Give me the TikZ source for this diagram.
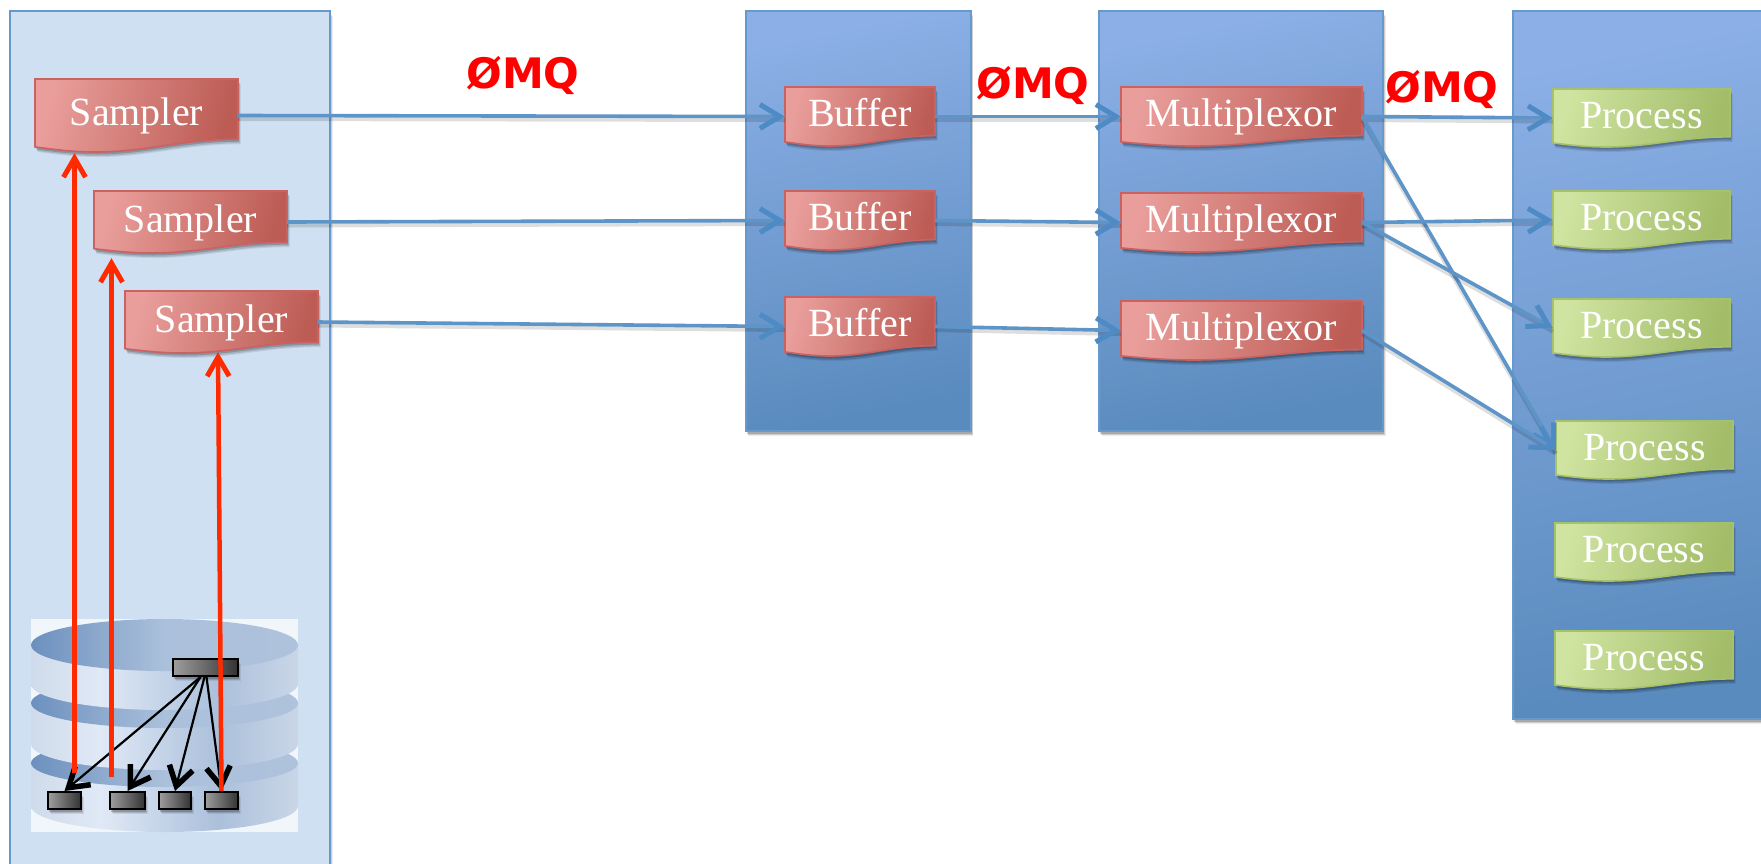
\documentclass[tikz,border=0pt]{standalone}
\usepackage{fontspec}
\setmainfont{Liberation Serif}
\newfontfamily\zmqfont{DejaVu Sans}
\usetikzlibrary{arrows.meta,shadows,calc}
\definecolor{edgeblue}{HTML}{6699CC}
\definecolor{linkblue}{HTML}{5E95C9}
\definecolor{linkhead}{HTML}{4E8AC4}
\definecolor{lightpanel}{HTML}{CFE0F2}
\definecolor{redhi}{HTML}{E99E9B}
\definecolor{redmid}{HTML}{E0807A}
\definecolor{redlo}{HTML}{BD5C55}
\definecolor{rededge}{HTML}{C96260}
\definecolor{greenhi}{HTML}{CFE4A0}
\definecolor{greenmid}{HTML}{C0DA82}
\definecolor{greenlo}{HTML}{A2BC68}
\definecolor{greenedge}{HTML}{A5C26A}
\definecolor{redarrow}{HTML}{FF2A00}
\definecolor{zmqred}{HTML}{FF0000}
\definecolor{diskA}{HTML}{CFDBEB}
\definecolor{diskB}{HTML}{E0E9F6}
\definecolor{diskC}{HTML}{ABC0DB}
\definecolor{diskD}{HTML}{C9D6E7}
\definecolor{topA}{HTML}{6C90BE}
\definecolor{topB}{HTML}{ABC0DB}
\definecolor{topC}{HTML}{AFC2DC}
\definecolor{panelhi}{HTML}{8BAFE6}
\definecolor{panelmid}{HTML}{739FD6}
\definecolor{panello}{HTML}{5A8BBE}
\pgfdeclarehorizontalshading{diskside}{100bp}{color(0bp)=(diskA); color(25bp)=(diskA); color(38bp)=(diskB); color(60bp)=(diskC); color(75bp)=(diskD); color(100bp)=(diskD)}
\pgfdeclarehorizontalshading{disktop}{100bp}{color(0bp)=(topA); color(25bp)=(topA); color(50bp)=(topB); color(75bp)=(topC); color(100bp)=(topC)}
\tikzset{
  softshadow/.style={
    drop shadow={shadow xshift=2.5pt,shadow yshift=-5pt,fill=black,opacity=.08},
    drop shadow={shadow xshift=2pt,shadow yshift=-4pt,fill=black,opacity=.12},
    drop shadow={shadow xshift=1pt,shadow yshift=-2.5pt,fill=black,opacity=.18}},
  panellight/.style={draw=edgeblue,line width=2pt,fill=lightpanel,inner sep=0pt,softshadow},
  paneldark/.style={draw=edgeblue,line width=2pt,top color=panelhi,middle color=panelmid,bottom color=panello,shading angle=12,inner sep=0pt,softshadow},
  redwave/.style={draw=rededge,line width=1.6pt,left color=redhi,middle color=redmid,right color=redlo,shading angle=75,softshadow},
  greenwave/.style={draw=greenedge,line width=1.6pt,left color=greenhi,middle color=greenmid,right color=greenlo,shading angle=75,softshadow},
  boxtext/.style={inner sep=0pt,text=white,font=\fontsize{40}{44}\selectfont,text height=28pt,text depth=8pt,align=center},
  link/.style={draw=linkblue,line width=3.6pt,-{Straight Barb[length=20pt,width=24pt,line width=5pt,color=linkhead]},
    preaction={draw=black,opacity=.13,line width=4pt,-,transform canvas={yshift=-3.5pt}}},
  redlink/.style={draw=redarrow,line width=4.5pt,-{Straight Barb[length=19pt,width=22pt,line width=5pt]}},
  blacklink/.style={draw=black,line width=2.2pt,-{Straight Barb[length=19pt,width=24pt,line width=5.5pt]}},
  dbbox/.style={draw=black,line width=2pt,left color=black!38,right color=black!80,inner sep=0pt,softshadow},
  zmq/.style={anchor=base,text=zmqred,font=\zmqfont\bfseries\fontsize{42}{44}\selectfont,inner sep=0pt},
}
\newcommand{\wbox}[7]{%
  \pgfmathsetmacro{\wW}{#4-#2}\pgfmathsetmacro{\wH}{#5-#3}%
  \pgfmathsetmacro{\wR}{#5-.175*\wH}\pgfmathsetmacro{\wL}{#5-.07*\wH}%
  \path[#7] (#2,#3) -- (#4,#3) -- (#4,\wR)
    .. controls ({#4-.28*\wW},\wR) and ({#2+.55*\wW},#5) .. ({#2+.3*\wW},#5)
    .. controls ({#2+.18*\wW},#5) and ({#2+.08*\wW},{\wL+.03*\wH}) .. (#2,\wL) -- cycle;
  \node[boxtext,minimum width=\wW pt,minimum height=\wH pt] (#1) at ({(#2+#4)/2},{(#3+#5)/2}) {#6};
}
\newcommand{\tier}[2]{%
  \path[shading=diskside] (31,#1) -- (31,#2)
    .. controls (31,{#2+14.4}) and (91,{#2+26}) .. (164.5,{#2+26})
    .. controls (238,{#2+26}) and (298,{#2+14.4}) .. (298,#2) -- (298,#1) -- cycle;
}
\begin{document}
\begin{tikzpicture}[x=1pt,y=-1pt]
\useasboundingbox (0,0) rectangle (1761,863);
\fill[white] (0,0) rectangle (1761,863);
% panels
\node[panellight,minimum width=320pt,minimum height=870pt] (panelA) at (170,446) {};
\node[paneldark,minimum width=225pt,minimum height=420pt] (panelB) at (858,221) {};
\node[paneldark,minimum width=284pt,minimum height=420pt] (panelC) at (1241,221) {};
\node[paneldark,minimum width=270pt,minimum height=708pt] (panelD) at (1648,365) {};
% database picture
\fill[white!70!lightpanel] (31,619) rectangle (298,832);
\tier{763}{806}
\path[shading=disktop] (164.5,763) ellipse [x radius=133.5,y radius=24];
\tier{703}{744}
\path[shading=disktop] (164.5,703) ellipse [x radius=133.5,y radius=25];
\tier{645}{684}
\path[shading=disktop] (164.5,645) ellipse [x radius=133.5,y radius=26];
\node[dbbox,minimum width=65pt,minimum height=17pt] (dbtop) at (205.5,667.5) {};
\node[dbbox,minimum width=33pt,minimum height=17pt] (dba) at (64.5,800.5) {};
\node[dbbox,minimum width=35pt,minimum height=17pt] (dbb) at (127.5,800.5) {};
\node[dbbox,minimum width=32pt,minimum height=17pt] (dbc) at (175,800.5) {};
\node[dbbox,minimum width=33pt,minimum height=17pt] (dbd) at (221.5,800.5) {};
% wave boxes
\wbox{s1}{35}{79}{238}{152}{Sampler}{redwave}
\wbox{s2}{94}{191}{287}{253}{Sampler}{redwave}
\wbox{s3}{125}{291}{318}{353}{Sampler}{redwave}
\wbox{b1}{785}{87}{935}{146}{Buffer}{redwave}
\wbox{b2}{785}{191}{935}{250}{Buffer}{redwave}
\wbox{b3}{785}{297}{935}{356}{Buffer}{redwave}
\wbox{m1}{1121}{87}{1362}{146}{Multiplexor}{redwave}
\wbox{m2}{1121}{193}{1362}{252}{Multiplexor}{redwave}
\wbox{m3}{1121}{301}{1362}{360}{Multiplexor}{redwave}
\wbox{p1}{1553}{89}{1730}{147}{Process}{greenwave}
\wbox{p2}{1553}{191}{1730}{249}{Process}{greenwave}
\wbox{p3}{1553}{299}{1730}{357}{Process}{greenwave}
\wbox{p4}{1556}{421}{1733}{479}{Process}{greenwave}
\wbox{p5}{1555}{523}{1733}{581}{Process}{greenwave}
\wbox{p6}{1555}{631}{1733}{689}{Process}{greenwave}
% labels
\node[zmq] (zmqA) at (523,88) {ØMQ};
\node[zmq] (zmqB) at (1033,98) {ØMQ};
\node[zmq] (zmqC) at (1442,102) {ØMQ};
% blue links
\draw[link] (s1.east) -- (b1.west);
\draw[link] (s2.east) -- (b2.west);
\draw[link] (s3.east) -- (b3.west);
\draw[link] (b1.east) -- (m1.west);
\draw[link] (b2.east) -- (m2.west);
\draw[link] (b3.east) -- (m3.west);
\draw[link] (m1.east) -- (p1.west);
\draw[link] (m1.east) -- (p4.west);
\draw[link] (m2.east) -- (p2.west);
\draw[link] (m2.east) -- (p3.west);
\draw[link] (m3.east) -- (p4.west);
% black links
\draw[blacklink] ([xshift=-5pt]dbtop.south) -- (dba.north);
\draw[blacklink] ([xshift=-5pt]dbtop.south) -- (dbb.north);
\draw[blacklink] ([xshift=-1pt]dbtop.south) -- (dbc.north);
\draw[blacklink] ([xshift=1pt]dbtop.south) -- (dbd.north);
% red links
\coordinate (redA) at (74.5,773);
\coordinate (redB) at (111.5,777);
\draw[redlink] (redA) -- ([xshift=-62pt,yshift=-1pt]s1.south);
\draw[redlink] (redB) -- ([xshift=-79pt,yshift=-5pt]s2.south);
\draw[redlink] (dbd.north) -- ([xshift=-3.5pt,yshift=1pt]s3.south);
\end{tikzpicture}
\end{document}
